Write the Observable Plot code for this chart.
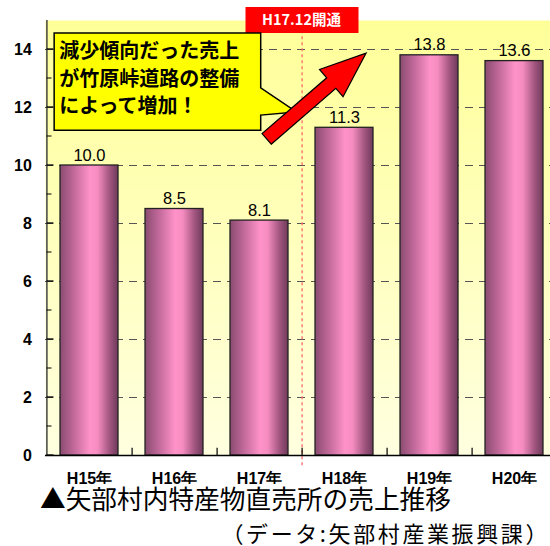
<!DOCTYPE html>
<html><head><meta charset="utf-8">
<script src="https://cdn.jsdelivr.net/npm/d3@7"></script>
<script src="https://cdn.jsdelivr.net/npm/@observablehq/plot@0.6"></script>
<style>
body{margin:0;background:#fff;font-family:"Liberation Sans",Arial,"Noto Sans CJK JP",sans-serif;}
#chart{position:relative;width:550px;height:484px;}
#title{position:absolute;left:40px;top:484px;font-size:25.7px;line-height:28px;color:#000;font-family:"Noto Sans CJK JP",sans-serif;white-space:nowrap;}
#caption{position:absolute;right:0px;top:518px;font-size:22px;line-height:28px;color:#000;font-family:"Noto Sans CJK JP",sans-serif;letter-spacing:2.6px;white-space:nowrap;}
</style></head>
<body>
<div id="chart"></div>
<div id="title">▲矢部村内特産物直売所の売上推移</div>
<div id="caption">（データ:矢部村産業振興課）</div>
<script>
const categories = ["H15年","H16年","H17年","H18年","H19年","H20年"];
const sales = [10.0, 8.5, 8.1, 11.3, 13.8, 13.6];
const valueLabels = ["10.0","8.5","8.1","11.3","13.8","13.6"];
const majorTicks = [0,2,4,6,8,10,12,14];
const minorTicks = [1,3,5,7,9,11,13];
const gridValues = [2,4,6,8,10,12,14];
const yLabel = "売上額（百万円）";
const openingLabel = "H17.12開通";
const calloutLines = ["減少傾向だった売上","が竹原峠道路の整備","によって増加！"];

const data = categories.map((c,i)=>({cat:c, value:sales[i], label:valueLabels[i]}));
const boundary = categories.slice(0,5);

const plot = Plot.plot({
  width: 550, height: 484,
  marginLeft: 45, marginRight: 0, marginTop: 20, marginBottom: 29,
  style: {fontFamily: "'Liberation Sans', Arial, sans-serif", fontSize: "13px", color: "#000", background: "transparent", overflow: "visible"},
  x: {type: "band", domain: categories, range: [45.4, 556.6], paddingInner: 0.32, paddingOuter: 0.16, axis: null},
  y: {domain: [0, 15], axis: null},
  marks: [
    Plot.frame({fill: "url(#bgGrad)", stroke: "none"}),
    Plot.ruleY(gridValues, {stroke: "#555", strokeWidth: 1.2, strokeDasharray: "8,6"}),
    Plot.barY(data, {x: "cat", y: "value", fill: "url(#barGrad)", stroke: "#222", strokeWidth: 1.3}),
    Plot.text(data, {x: "cat", y: "value", text: "label", lineAnchor: "bottom", dy: -5, fontSize: 16.5, fill: "#000"}),
    Plot.ruleX(categories.slice(2,3), {x: d=>d, dx: 42.6, y1: -0.35, y2: 15, stroke: "#ff6a6a", strokeWidth: 1.3, strokeDasharray: "3,3"}),
    Plot.ruleX(boundary, {x: d=>d, dx: 42.6, y1: 0, y2: 0.25, stroke: "#000", strokeWidth: 1.2}),
    Plot.ruleY([0], {stroke: "#000", strokeWidth: 1.5}),
    Plot.ruleX([0], {x: ()=>categories[0], dx: -42.6, y1: 0, y2: 15, stroke: "#444", strokeWidth: 1.5}),
    // x tick labels
    Plot.text(categories, {x: d=>d, y: ()=>0, dy: 23, text: d=>d, fontSize: 16, fontWeight: "bold", fill: "#000"}),
    // y tick labels
    Plot.text(majorTicks, {y: d=>d, x: ()=>categories[0], dx: -57.6, text: d=>String(d), textAnchor: "end", fontSize: 16, fontWeight: "bold", fill: "#000"})
  ]
});
document.getElementById("chart").appendChild(plot);

const svg = d3.select(plot);
const defs = svg.insert("defs", ":first-child");
const bg = defs.append("linearGradient").attr("id","bgGrad").attr("x1",0).attr("y1",0).attr("x2",0).attr("y2",1);
bg.append("stop").attr("offset","0%").attr("stop-color","#ffff99");
bg.append("stop").attr("offset","100%").attr("stop-color","#ffffe0");
const bar = defs.append("linearGradient").attr("id","barGrad").attr("x1",0).attr("y1",0).attr("x2",1).attr("y2",0);
[["0%","#8a4c70"],["25%","#c46a9c"],["52%","#ff93c9"],["65%","#f58cc0"],["85%","#a35680"],["100%","#6e3a5a"]]
  .forEach(([o,c])=>bar.append("stop").attr("offset",o).attr("stop-color",c));

const xs = plot.scale("x"), ys = plot.scale("y");
const step = xs.apply(categories[1]) - xs.apply(categories[0]);
const bw = xs.bandwidth != null ? xs.bandwidth : step*0.68;
const X = f => xs.apply(categories[0]) + bw/2 + f*step;
const Y = v => ys.apply(v);
const g = svg.append("g").attr("text-anchor","start");

// y-axis ticks (inside)
majorTicks.forEach(v=>g.append("line").attr("x1",X(-0.5)).attr("x2",X(-0.5)+7).attr("y1",Y(v)).attr("y2",Y(v)).attr("stroke","#000").attr("stroke-width",1.3));
minorTicks.forEach(v=>g.append("line").attr("x1",X(-0.5)).attr("x2",X(-0.5)+5).attr("y1",Y(v)).attr("y2",Y(v)).attr("stroke","#000").attr("stroke-width",1));

// y label (cut off on left)
g.append("text").attr("transform",`translate(${-3},${Y(7.5)}) rotate(-90)`).attr("text-anchor","middle")
  .attr("font-size",17).attr("font-weight","bold").attr("font-family","'Noto Sans CJK JP',sans-serif").text(yLabel);

// opening label box
const ox = X(2.5), oy = Y(15);
g.append("rect").attr("x",ox-56).attr("y",oy-13).attr("width",113).attr("height",26).attr("fill","#ff0000");
g.append("text").attr("x",ox).attr("y",oy).attr("dy","0.35em").attr("text-anchor","middle").attr("fill","#fff")
  .attr("font-size",14.5).attr("font-weight","bold").attr("font-family","'Noto Sans CJK JP',sans-serif").text(openingLabel);

// callout
const cL=X(-0.41), cR=X(2.02), cT=Y(14.55), cB=Y(11.2);
const pU=Y(12.66), pD=Y(11.72), tipX=X(2.44), tipY=Y(11.83);
g.append("path").attr("d",`M${cL},${cT}H${cR}V${pU}L${tipX},${tipY}L${cR},${pD}V${cB}H${cL}Z`)
  .attr("fill","#ffff00").attr("stroke","#000").attr("stroke-width",1.5);
calloutLines.forEach((t,i)=>g.append("text").attr("x",cL+5).attr("y",cT+25+i*27.5).attr("text-anchor","start")
  .attr("font-size",20).attr("font-weight","bold").attr("font-family","'Noto Sans CJK JP',sans-serif").attr("fill","#000").text(t));

// arrow
const ax0=X(2.09), ay0=Y(10.9), ax1=X(3.26), ay1=Y(13.86);
const dx=ax1-ax0, dy=ay1-ay0, L=Math.hypot(dx,dy), ux=dx/L, uy=dy/L, nx=-uy, ny=ux;
const sw=7, hw=18, hl=46;
const bx=ax1-ux*hl, by=ay1-uy*hl;
const pts=[[ax0+nx*sw,ay0+ny*sw],[bx+nx*sw,by+ny*sw],[bx+nx*hw,by+ny*hw],[ax1,ay1],[bx-nx*hw,by-ny*hw],[bx-nx*sw,by-ny*sw],[ax0-nx*sw,ay0-ny*sw]];
g.append("path").attr("d","M"+pts.map(p=>p.join(",")).join("L")+"Z").attr("fill","#ff0000").attr("stroke","#000").attr("stroke-width",1.2);
</script>
</body></html>
